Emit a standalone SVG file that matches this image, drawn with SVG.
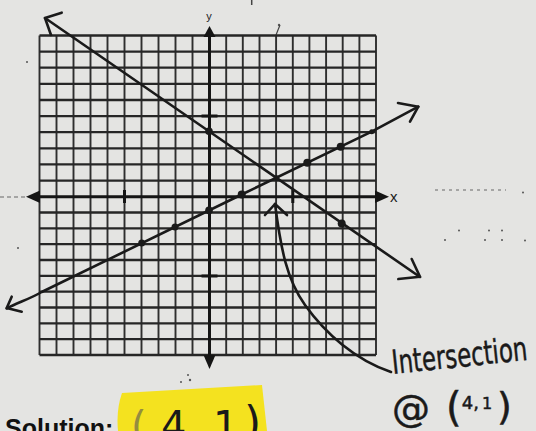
<svg xmlns="http://www.w3.org/2000/svg" width="536" height="431" viewBox="0 0 536 431">
<style>
.bg{fill:#e4e4e2}
.hl{stroke:#262626;stroke-width:2.3;fill:none}
.vl{stroke:#2e2e2e;stroke-width:1.9;fill:none}
.ax{stroke:#151515;stroke-width:3;fill:none}
.tri{fill:#151515}
.ln{stroke:#1a1a1a;stroke-width:2.6;fill:none;stroke-linecap:round;stroke-linejoin:round}
.dot{fill:#1a1a1a}
.hand{font-family:"DejaVu Sans","Liberation Sans",sans-serif;fill:#1a1a1a;stroke:#1a1a1a;stroke-width:0.5}
.speck{fill:#555}
</style>
<rect class="bg" x="0" y="0" width="536" height="431"/>
<g id="worksheet-marks">
<path d="M0,197 H28" stroke="#666" stroke-width="1.2" stroke-dasharray="4 3"/>
<path d="M435,190 H506" stroke="#666" stroke-width="1.2" stroke-dasharray="3 4"/>
<circle class="speck" cx="523" cy="192.5" r="1"/>
<circle class="speck" cx="459" cy="230.5" r="1"/>
<circle class="speck" cx="489" cy="230.5" r="1"/>
<circle class="speck" cx="502" cy="230.5" r="1"/>
<circle class="speck" cx="445" cy="240" r="1"/>
<circle class="speck" cx="485" cy="240" r="1"/>
<circle class="speck" cx="502" cy="240" r="1"/>
<circle class="speck" cx="525" cy="240.5" r="1"/>
<circle class="speck" cx="27" cy="62" r="1"/>
<circle class="speck" cx="18" cy="248" r="1"/>
<circle class="speck" cx="279" cy="25" r="1.2"/>
<path d="M251.7,0 V5" stroke="#444" stroke-width="1.5"/>
<path d="M280,25 L276,35" stroke="#444" stroke-width="1.2"/>
<circle class="speck" cx="190" cy="380" r="1.2"/>
<circle class="speck" cx="188" cy="375" r="1"/>
<circle class="speck" cx="181" cy="382" r="1"/>
</g>
<g id="grid">
<path class="vl" d="M39.5,35.5V355 M56.5,35.5V355 M73.5,35.5V355 M90.5,35.5V355 M107.5,35.5V355 M124.5,35.5V355 M141.5,35.5V355 M158.5,35.5V355 M175.5,35.5V355 M192.5,35.5V355 M226.2,35.5V355 M242.8,35.5V355 M259.5,35.5V355 M276.1,35.5V355 M292.8,35.5V355 M309.4,35.5V355 M326.1,35.5V355 M342.7,35.5V355 M359.4,35.5V355 M376,35.5V355"/>
<path class="hl" d="M39.5,35.5H376 M39.5,51.6H376 M39.5,67.7H376 M39.5,83.8H376 M39.5,100H376 M39.5,116.1H376 M39.5,132.2H376 M39.5,148.3H376 M39.5,164.4H376 M39.5,180.6H376 M39.5,212.5H376 M39.5,228.4H376 M39.5,244.2H376 M39.5,260H376 M39.5,275.9H376 M39.5,291.7H376 M39.5,307.5H376 M39.5,323.3H376 M39.5,339.2H376 M39.5,355H376"/>
</g>
<g id="axes">
<path class="ax" d="M36,196.7 H380 M209.5,32 V360"/>
<path class="tri" d="M26,196.7 L40,190.5 L40,202.9 Z"/>
<path class="tri" d="M389,196.7 L375,190.5 L375,202.9 Z"/>
<path class="tri" d="M209.5,26 L203.5,37 L215.5,37 Z"/>
<path class="tri" d="M209.5,369 L203.5,355 L215.5,355 Z"/>
<path d="M201.5,116.1 H217.5 M201.5,275.9 H217.5 M124.5,190 V203 M292.8,190 V203" stroke="#151515" stroke-width="3"/>
<text x="209" y="20" font-family="Liberation Sans,sans-serif" font-size="11" text-anchor="middle" fill="#222">y</text>
<text x="390" y="202" font-family="Liberation Sans,sans-serif" font-size="15" fill="#1a1a1a">x</text>
</g>
<g id="connectors">
<g id="line-decreasing">
<path class="ln" d="M45,18 L420,277"/>
<path class="ln" d="M61.7,12.7 L45,18 L51,35"/>
<path class="ln" d="M411.7,259 L420,276.7 L398.3,279"/>
<circle class="dot" cx="209" cy="131.2" r="3.8"/>
<circle class="dot" cx="341.7" cy="223.5" r="4"/>
</g>
<g id="line-increasing">
<path class="ln" d="M6.7,308.5 C18,302 28,300 41.7,292 L241.7,194.5 L371.7,131.7 L418.3,106.7"/>
<path class="ln" d="M398,103 L418.3,106.7 L410,121.7"/>
<path class="ln" d="M11.7,296.7 L6.7,308 L21.7,311.7"/>
<circle class="dot" cx="141.7" cy="243" r="3.5"/>
<circle class="dot" cx="175" cy="226.9" r="3.5"/>
<circle class="dot" cx="209" cy="210.4" r="3.8"/>
<circle class="dot" cx="241.7" cy="194.5" r="4"/>
<circle class="dot" cx="307.3" cy="162.8" r="4"/>
<circle class="dot" cx="340.7" cy="146.7" r="4"/>
<circle class="dot" cx="371.7" cy="131.7" r="2.5"/>
<circle class="dot" cx="276.5" cy="178" r="2.8"/>
</g>
<g id="pointer">
<path class="ln" d="M275,204 C281,250 287,280 305,305 C325,333 355,360 391,372"/>
<path class="ln" d="M265,215 L275,204 L287,215"/>
</g>
</g>
<g id="annotation">
<text class="hand" x="393" y="374" font-size="33" textLength="136" lengthAdjust="spacingAndGlyphs" transform="rotate(-6 393 374)">Intersection</text>
<text class="hand" x="392" y="421" font-size="38">@ <tspan font-size="40" dx="4">(</tspan><tspan font-size="18" dy="-12">4,</tspan><tspan font-size="16" dx="3">1</tspan><tspan font-size="38" dx="5" dy="10">)</tspan></text>
</g>
<g id="solution">
<path d="M122,393 L262,385 L267,431 L118,431 Q116,410 122,393 Z" fill="#f4e21f"/>
<text x="131" y="440" font-family="DejaVu Sans,sans-serif" font-size="40" fill="#555" opacity="0.6">(</text>
<text x="161" y="440" font-family="DejaVu Sans,sans-serif" font-size="40" fill="#1a1a1a">4</text>
<text x="213" y="440" font-family="DejaVu Sans,sans-serif" font-size="40" fill="#1a1a1a">1</text>
<text x="244" y="438" font-family="DejaVu Sans,sans-serif" font-size="44" fill="#1a1a1a">)</text>
<text x="5" y="437" font-family="Liberation Sans,Arial,sans-serif" font-size="25" font-weight="bold" fill="#111">Solution:</text>
</g>
</svg>
